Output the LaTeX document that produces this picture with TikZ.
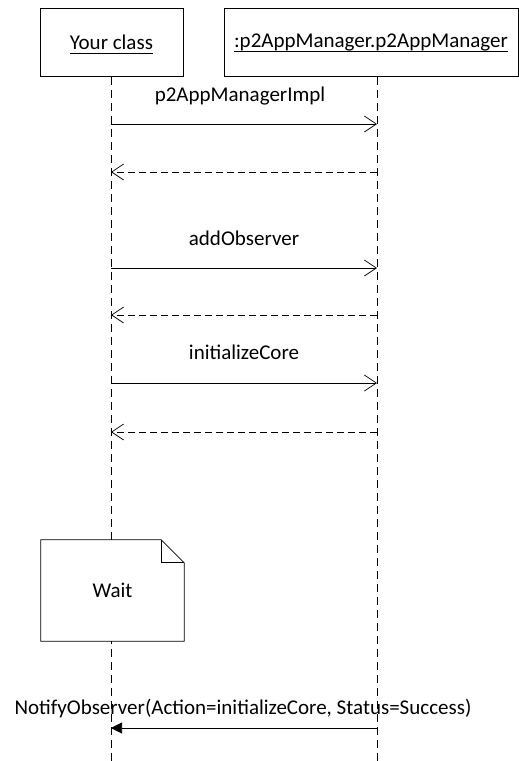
\documentclass[tikz,border=0pt]{standalone}
\usepackage{fontspec}
\setmainfont{Carlito}
\usetikzlibrary{arrows.meta}
\tikzset{
  objbox/.style={draw, line width=0.7pt, minimum width=143pt, minimum height=68pt, inner sep=0pt},
  lifeline/.style={line width=0.7pt, dash pattern=on 8pt off 5pt},
  callmsg/.style={line width=0.7pt, -{Straight Barb[length=12pt,width=16pt,line width=0.7pt]}},
  retmsg/.style={line width=0.7pt, dash pattern=on 7pt off 4pt, -{Straight Barb[length=12pt,width=16pt,line width=0.7pt]}},
  asyncmsg/.style={line width=0.7pt, -{Triangle[length=11pt,width=11pt]}},
  msglabel/.style={inner sep=0pt},
}
\begin{document}
\begin{tikzpicture}[x=1pt,y=-1pt,font=\fontsize{21}{25}\selectfont]
\useasboundingbox (0,0) rectangle (519,761);

% participants
\node[objbox] (cls) at (111.5,42.5) {};
\node[objbox, minimum width=294pt] (mgr) at (371,42.5) {};
\node[inner sep=0pt] (clst) at (cls.center) {Your class};
\node[inner sep=0pt] (mgrt) at (mgr.center) {:p2AppManager.p2AppManager};
\draw[line width=0.7pt] ([yshift=-4pt]clst.base west) -- ([yshift=-4pt]clst.base east);
\draw[line width=0.7pt] ([yshift=-4pt]mgrt.base west) -- ([yshift=-4pt]mgrt.base east);

% lifeline ends
\coordinate (e1) at (111,761);
\coordinate (e2) at (377,761);
\draw[lifeline] (cls.south -| e1) -- (e1);
\draw[lifeline] (mgr.south -| e2) -- (e2);

% message points on the lifelines
\coordinate (a1) at (111,124); \coordinate (b1) at (377,124);
\coordinate (a2) at (111,172); \coordinate (b2) at (377,172);
\coordinate (a3) at (111,268); \coordinate (b3) at (377,268);
\coordinate (a4) at (111,315); \coordinate (b4) at (377,315);
\coordinate (a5) at (111,383); \coordinate (b5) at (377,383);
\coordinate (a6) at (111,432); \coordinate (b6) at (377,432);
\coordinate (a7) at (111,728); \coordinate (b7) at (377,728);

\draw[callmsg] (a1) -- (b1);
\node[msglabel] (l1) at (240,96) {p2AppManagerImpl};
\draw[retmsg] (b2) -- (a2);

\draw[callmsg] (a3) -- (b3);
\node[msglabel] (l3) at (244,238) {addObserver};
\draw[retmsg] (b4) -- (a4);

\draw[callmsg] (a5) -- (b5);
\node[msglabel] (l5) at (244,352) {initializeCore};
\draw[retmsg] (b6) -- (a6);

% note with folded corner
\node[fill=white, minimum width=143pt, minimum height=101pt, inner sep=0pt] (wait) at (112.5,590.5) {Wait};
\draw[line width=0.7pt] (wait.north west) -- ([xshift=-23pt]wait.north east)
  -- ([yshift=-23pt]wait.north east) -- (wait.south east) -- (wait.south west) -- cycle;
\draw[line width=0.7pt] ([xshift=-23pt]wait.north east) -- ([xshift=-23pt,yshift=-23pt]wait.north east)
  -- ([yshift=-23pt]wait.north east);

\node[msglabel] (l7) at (243,709) {NotifyObserver(Action=initializeCore, Status=Success)};
\draw[asyncmsg] (b7) -- (a7);
\end{tikzpicture}
\end{document}
